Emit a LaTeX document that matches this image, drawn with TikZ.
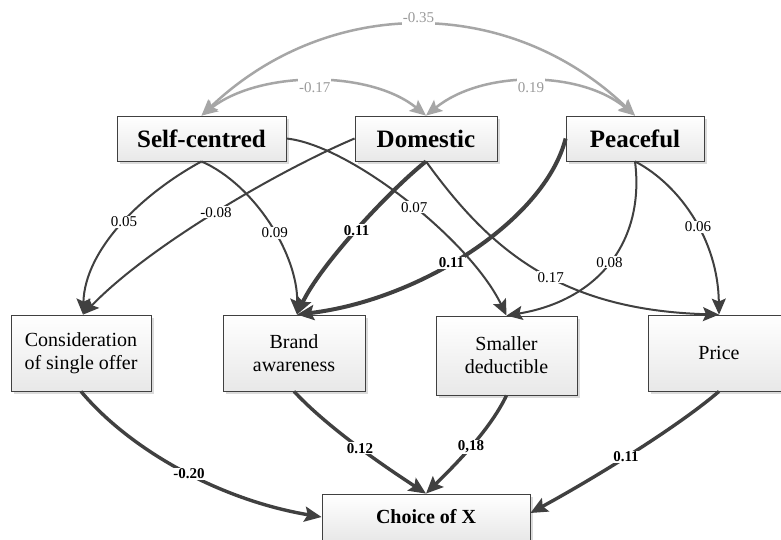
\documentclass[tikz,border=0pt]{standalone}
\usepackage{fontspec}
\setmainfont{Liberation Serif}
\usetikzlibrary{arrows.meta,shadows,calc}
\definecolor{edgec}{HTML}{404040}
\definecolor{greyc}{HTML}{A6A6A6}
\definecolor{greytext}{HTML}{9A9A9A}
\tikzset{
  box/.style={draw=edgec, line width=0.8pt, top color=white, bottom color=black!9,
    drop shadow={shadow xshift=3pt, shadow yshift=-3pt, fill=black!14, opacity=1},
    inner sep=0pt, align=center},
  topbox/.style={box, minimum height=45pt, font=\fontsize{25}{30}\selectfont\bfseries},
  midbox/.style={box, minimum height=76pt, minimum width=141pt, font=\fontsize{20}{23}\selectfont},
  endbox/.style={box, minimum height=46pt, minimum width=208pt, font=\fontsize{20}{23}\selectfont\bfseries},
  tip/.style={-{Stealth[length=16pt,width=14pt,inset=3pt]}},
  thinedge/.style={draw=edgec, line width=2pt, tip},
  boldedge/.style={draw=edgec, line width=4pt, -{Stealth[length=17pt,width=15pt,inset=3pt]}},
  botedge/.style={draw=edgec, line width=3.4pt, -{Stealth[length=17pt,width=15pt,inset=3pt]}},
  corr/.style={draw=greyc, line width=2.5pt,
    {Stealth[length=16pt,width=14pt,inset=3pt]}-{Stealth[length=16pt,width=14pt,inset=3pt]}},
  lab/.style={fill=white, inner xsep=1pt, inner ysep=1pt, text=black, font=\fontsize{15}{18}\selectfont},
  blab/.style={lab, font=\fontsize{15}{18}\selectfont\bfseries},
  glab/.style={lab, text=greytext, inner ysep=5pt}
}
\begin{document}
\begin{tikzpicture}[x=1pt,y=-1pt]
\useasboundingbox (0,0) rectangle (781,539);
\fill[white] (0,0) rectangle (781,539);

% nodes
\node[topbox, minimum width=169pt] (SC) at (201.5,138.5) {Self-centred};
\node[topbox, minimum width=142pt] (DO) at (426,138.5) {Domestic};
\node[topbox, minimum width=138pt] (PE) at (635,138.5) {Peaceful};
\node[midbox, minimum width=140pt] (CO) at (81,353) {Consideration\\of single offer};
\node[midbox, minimum width=142pt] (BA) at (294,353) {Brand\\awareness};
\node[midbox, minimum height=79pt] (SD) at (506.5,355.5) {Smaller\\deductible};
\node[midbox, minimum width=142pt] (PR) at (719,353) {Price};
\node[endbox] (CX) at (426,517) {Choice of X};

\coordinate (BAin) at ($(BA.north)+(3,0)$);
\coordinate (COin) at ($(CO.north)+(2,0)$);
\coordinate (CXr) at ($(CX.east)+(0,-4)$);

% correlations
\draw[corr] (SC.north) .. controls (328,-5) and (509,-5) .. (PE.north)
  node[glab, pos=0.5, yshift=8pt] {-0.35};
\draw[corr] (SC.north) .. controls (260,70) and (370,70) .. (DO.north)
  node[glab, pos=0.5, yshift=-6pt] {-0.17};
\draw[corr] (DO.north) .. controls (482,70) and (580,70) .. (PE.north)
  node[glab, pos=0.5, yshift=-6pt] {0.19};

% paths to middle layer
\draw[thinedge] (SC.south) .. controls (140,195) and (85,250) .. (COin)
  node[lab, pos=0.47] {0.05};
\draw[thinedge] (DO.west) .. controls (280,170) and (150,245) .. (COin)
  node[lab, pos=0.5] {-0.08};
\draw[thinedge] (SC.south) .. controls (255,185) and (298,255) .. (BAin)
  node[lab, pos=0.55] {0.09};
\draw[boldedge] (DO.south) .. controls (390,190) and (320,265) .. (BAin)
  node[blab, pos=0.5] {0.11};
\draw[boldedge] (PE.west) .. controls (545,220) and (420,300) .. (BAin)
  node[blab, pos=0.56] {0.11};
\draw[thinedge] (SC.east) .. controls (350,145) and (470,240) .. (SD.north)
  node[lab, pos=0.53] {0.07};
\draw[thinedge] (DO.south) .. controls (490,250) and (560,310) .. (PR.north)
  node[lab, pos=0.55] {0.17};
\draw[thinedge] (PE.south) .. controls (645,240) and (600,300) .. (SD.north)
  node[lab, pos=0.5] {0.08};
\draw[thinedge] (PE.south) .. controls (680,185) and (718,240) .. (PR.north)
  node[lab, pos=0.55] {0.06};

% paths to choice
\draw[botedge] (CO.south) .. controls (130,450) and (220,500) .. (CX.west)
  node[blab, pos=0.53] {-0.20};
\draw[botedge] (BA.south) .. controls (330,430) and (390,470) .. (CX.north)
  node[blab, pos=0.5] {0.12};
\draw[botedge] (SD.south) .. controls (490,430) and (455,465) .. (CX.north)
  node[blab, pos=0.5] {0,18};
\draw[botedge] (PR.south) .. controls (680,425) and (600,475) .. (CXr)
  node[blab, pos=0.55] {0.11};
\end{tikzpicture}
\end{document}
